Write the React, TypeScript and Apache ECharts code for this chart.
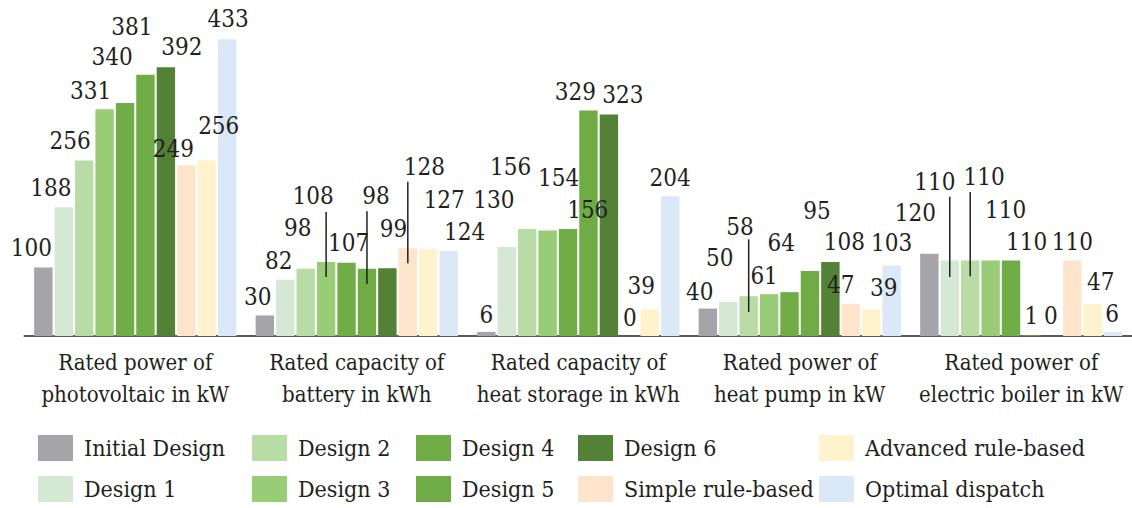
import React, { useEffect, useRef } from "react";
import * as echarts from "echarts";

const categories = [
  "Rated power of\nphotovoltaic in kW",
  "Rated capacity of\nbattery in kWh",
  "Rated capacity of\nheat storage in kWh",
  "Rated power of\nheat pump in kW",
  "Rated power of\nelectric boiler in kW",
];

const seriesNames = [
  "Initial Design",
  "Design 1",
  "Design 2",
  "Design 3",
  "Design 4",
  "Design 5",
  "Design 6",
  "Simple rule-based",
  "Advanced rule-based",
  "Optimal dispatch",
];

const initialDesign = [100, 30, 6, 40, 120];
const design1 = [188, 82, 130, 50, 110];
const design2 = [256, 98, 156, 58, 110];
const design3 = [331, 108, 154, 61, 110];
const design4 = [340, 107, 156, 64, 110];
const design5 = [381, 98, 329, 95, 1];
const design6 = [392, 99, 323, 108, 0];
const simpleRule = [249, 128, 0, 47, 110];
const advancedRule = [256, 127, 39, 39, 47];
const optimalDispatch = [433, 124, 204, 103, 6];

const seriesValues = [
  initialDesign,
  design1,
  design2,
  design3,
  design4,
  design5,
  design6,
  simpleRule,
  advancedRule,
  optimalDispatch,
];

// leader lines: [category index, bar index, top value, bottom value]
const leaderLines = [
  [1, 3, 181, 86],
  [1, 5, 182, 76],
  [1, 7, 225, 106],
  [3, 2, 141, 35],
  [4, 1, 203, 86],
  [4, 2, 210, 87],
];

// styling (not data)
const colors = [
  "#a5a5a9",
  "#d5e8d4",
  "#b9dba5",
  "#98cc76",
  "#70ad47",
  "#6fac46",
  "#538135",
  "#fee4cb",
  "#fff3cd",
  "#dae8f7",
];

const labelOffsets = [
  [[-12, -6.5], [-7, -5], [0, -3.5], [-8, -3.6], [-14, -27.7]],
  [[-13, -6], [-6.5, -6], [-13, -34], [-8.6, -30.7], [-15, -65.6]],
  [[-14, -6.5], [-8, -28], [-16.5, -48.6], [-8.6, -56], [14, -70.6]],
  [[-14, -5], [-13, -53], [11, -39], [-5, -5], [15, -37.6]],
  [[-13, -33], [2, -6.5], [19.7, -6], [-8.4, -36], [15.5, -5.6]],
  [[-13.5, -35], [9, -60], [-13, -5.5], [7, -47], [0, -6.3]],
  [[16, -7], [6, -26], [14, -6.6], [14, -6.5], [-1, -7]],
  [[-13, -3], [16.5, -68], [0.5, -5.5], [-10, -5.8], [0, -5.6]],
  [[12, -21.5], [16, -36], [-8.5, -10], [12.4, -8.3], [8, -8.3]],
  [[1, -7], [16, -6], [0, -5], [0, -9.4], [-1, -5]],
];

const legendGroups = [
  ["Initial Design", "Design 1"],
  ["Design 2", "Design 3"],
  ["Design 4", "Design 5"],
  ["Design 6", "Simple rule-based"],
  ["Advanced rule-based", "Optimal dispatch"],
];
const legendLefts = [38, 252, 416, 578, 819];

const FONT = "DejaVu Serif Condensed";
const TEXT = "#231f20";
const BAR_W = 18.4;
const BAR_GAP_RATIO = 0.11;
const BAR_STEP = BAR_W * (1 + BAR_GAP_RATIO);

export default function App() {
  const ref = useRef<HTMLDivElement>(null);

  useEffect(() => {
    if (!ref.current) return;
    const chart = echarts.init(ref.current, null, { renderer: "svg" });

    const barSeries = seriesNames.map((name, si) => ({
      name,
      type: "bar",
      barWidth: BAR_W,
      barGap: `${BAR_GAP_RATIO * 100}%`,
      itemStyle: { color: colors[si] },
      label: {
        show: true,
        position: "top",
        distance: 0,
        fontFamily: FONT,
        fontSize: 24,
        lineHeight: 26,
        color: TEXT,
      },
      data: seriesValues[si].map((v, ci) => ({
        value: v,
        label: { offset: labelOffsets[si][ci] },
      })),
    }));

    const option: any = {
      animation: false,
      backgroundColor: "#ffffff",
      grid: { left: 24.5, right: 0, top: 7, bottom: 172 },
      xAxis: {
        type: "category",
        data: categories,
        axisTick: { show: false },
        axisLine: { lineStyle: { color: "#595959", width: 2 } },
        axisLabel: {
          interval: 0,
          margin: 10,
          fontFamily: FONT,
          fontSize: 22,
          lineHeight: 32,
          color: TEXT,
        },
      },
      yAxis: { type: "value", min: 0, max: 480, show: false },
      legend: legendGroups.map((names, i) => ({
        data: names,
        orient: "vertical",
        left: legendLefts[i],
        top: 435,
        padding: 0,
        itemWidth: 35,
        itemHeight: 26,
        itemGap: 15,
        icon: "rect",
        selectedMode: false,
        textStyle: {
          fontFamily: FONT,
          fontSize: 23,
          lineHeight: 26,
          color: TEXT,
          padding: [0, 0, 0, 6],
        },
      })),
      series: [
        ...barSeries,
        {
          type: "custom",
          name: "leaders",
          z: 10,
          encode: { x: 0, y: [2, 3] },
          data: leaderLines,
          renderItem: (params: any, api: any) => {
            const p1 = api.coord([api.value(0), api.value(2)]);
            const p2 = api.coord([api.value(0), api.value(3)]);
            const dx = (api.value(1) - 4.5) * BAR_STEP;
            return {
              type: "line",
              shape: { x1: p1[0] + dx, y1: p1[1], x2: p2[0] + dx, y2: p2[1] },
              style: { stroke: TEXT, lineWidth: 1.5 },
            };
          },
        },
      ],
    };

    chart.setOption(option);
    return () => chart.dispose();
  }, []);

  return (
    <div
      ref={ref}
      style={{ position: "fixed", left: 0, top: 0, width: 1132, height: 508 }}
    />
  );
}
